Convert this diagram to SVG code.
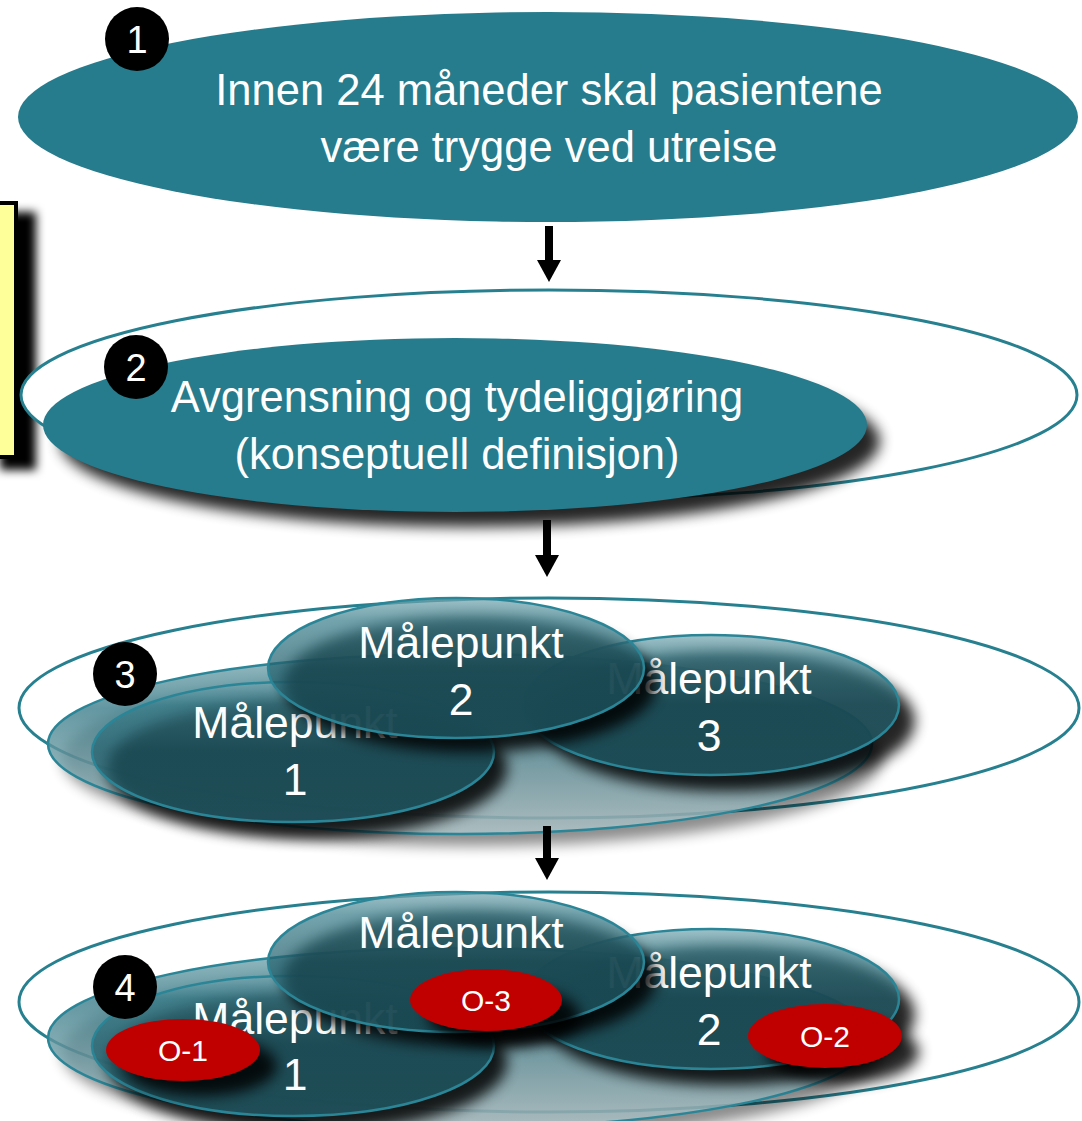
<svg xmlns="http://www.w3.org/2000/svg" width="1082" height="1121" viewBox="0 0 1082 1121">
  <defs>
    <style>
      .txt { font-family: "Liberation Sans", Arial, sans-serif; fill: #ffffff; text-anchor: middle; }
      .big { font-size: 43.5px; }
      .mp { font-size: 44.5px; }
      .olab { font-size: 30px; }
      .badge circle { fill: #000000; }
      .badge text { font-family: "Liberation Sans", Arial, sans-serif; font-size: 38px; fill: #ffffff; text-anchor: middle; }
      .solid { fill: #267b8c; }
      .ring { fill: #ffffff; stroke: #27808f; stroke-width: 3; }
      .glass { fill: url(#glass); fill-opacity: 0.72; stroke: #2a8597; stroke-width: 2.5; }
      .base { fill: url(#baseGlass); fill-opacity: 0.8; stroke: #2a8597; stroke-width: 2.5; }
      .shade { fill: #000000; opacity: 0.85; filter: url(#soft); }
      .shade-light { fill: #000000; opacity: 0.45; filter: url(#soft); }
      .red { fill: #c00000; }
      .arrow { stroke: #000000; stroke-width: 8; fill: none; marker-end: url(#head); }
    </style>
    <linearGradient id="glass" x1="0" y1="0" x2="0" y2="1">
      <stop offset="0" stop-color="#78a8b2"/>
      <stop offset="0.16" stop-color="#3d808d"/>
      <stop offset="0.5" stop-color="#22606d"/>
      <stop offset="1" stop-color="#22606d"/>
    </linearGradient>
    <linearGradient id="baseGlass" x1="0" y1="0" x2="0" y2="1">
      <stop offset="0" stop-color="#7eabb4"/>
      <stop offset="0.3" stop-color="#3d7e8b"/>
      <stop offset="1" stop-color="#b3c8cc"/>
    </linearGradient>
    <filter id="soft" x="-20%" y="-60%" width="140%" height="220%">
      <feGaussianBlur stdDeviation="7"/>
    </filter>
    <filter id="boxShadow" x="-100%" y="-20%" width="400%" height="140%">
      <feGaussianBlur stdDeviation="5"/>
    </filter>
    <marker id="head" viewBox="0 0 22 24" refX="2" refY="12" markerWidth="22" markerHeight="24" markerUnits="userSpaceOnUse" orient="auto">
      <path d="M0,0 L22,12 L0,24 Z" fill="#000000"/>
    </marker>
  </defs>

  <rect width="1082" height="1121" fill="#ffffff"/>

  <!-- note box at the left edge -->
  <g id="note">
    <rect x="0" y="212" width="36" height="258" fill="#000000" filter="url(#boxShadow)"/>
    <rect x="-10" y="203" width="26" height="254" fill="#ffff99" stroke="#000000" stroke-width="4"/>
  </g>

  <!-- step 1: goal -->
  <g id="goal">
    <ellipse class="solid" cx="548" cy="117" rx="530" ry="105"/>
    <text class="txt big" x="549" y="105">Innen 24 måneder skal pasientene</text>
    <text class="txt big" x="549" y="162">være trygge ved utreise</text>
  </g>

  <!-- step 2: concept definition -->
  <g id="concept">
    <ellipse class="ring" cx="549" cy="395" rx="528" ry="105"/>
    <ellipse class="shade" cx="470" cy="441" rx="410" ry="86"/>
    <ellipse class="solid" cx="455" cy="425" rx="412" ry="87"/>
    <text class="txt big" x="457" y="412">Avgrensning og tydeliggjøring</text>
    <text class="txt big" x="457" y="469">(konseptuell definisjon)</text>
  </g>

  <!-- step 3: measuring points -->
  <g id="measures">
    <ellipse class="ring" cx="549" cy="708" rx="530" ry="110"/>
    <ellipse class="shade-light" cx="472" cy="758" rx="410" ry="88"/>
    <ellipse class="base" cx="460" cy="744" rx="412" ry="90"/>
    <g id="mp1">
      <ellipse class="shade" cx="307" cy="768" rx="200" ry="70"/>
      <ellipse class="glass" cx="293" cy="752" rx="201" ry="70"/>
      <text class="txt mp" x="295" y="738">Målepunkt</text>
      <text class="txt mp" x="295" y="795">1</text>
    </g>
    <g id="mp3">
      <ellipse class="shade" cx="727" cy="721" rx="188" ry="70"/>
      <ellipse class="glass" cx="711" cy="705" rx="188" ry="70"/>
      <text class="txt mp" x="709" y="694">Målepunkt</text>
      <text class="txt mp" x="709" y="751">3</text>
    </g>
    <g id="mp2">
      <ellipse class="shade" cx="470" cy="684" rx="187" ry="68"/>
      <ellipse class="glass" cx="456" cy="668" rx="188" ry="70"/>
      <text class="txt mp" x="461" y="658">Målepunkt</text>
      <text class="txt mp" x="461" y="715">2</text>
    </g>
  </g>

  <!-- step 4: measuring points with observations -->
  <g id="observations">
    <ellipse class="ring" cx="549" cy="1002" rx="530" ry="110"/>
    <ellipse class="shade-light" cx="472" cy="1052" rx="410" ry="88"/>
    <ellipse class="base" cx="460" cy="1038" rx="412" ry="90"/>
    <g id="obs-mp1">
      <ellipse class="shade" cx="307" cy="1062" rx="200" ry="70"/>
      <ellipse class="glass" cx="293" cy="1046" rx="201" ry="70"/>
      <text class="txt mp" x="295" y="1034">Målepunkt</text>
      <text class="txt mp" x="295" y="1090">1</text>
    </g>
    <g id="obs-mp2">
      <ellipse class="shade" cx="727" cy="1015" rx="188" ry="70"/>
      <ellipse class="glass" cx="711" cy="999" rx="188" ry="70"/>
      <text class="txt mp" x="709" y="988">Målepunkt</text>
      <text class="txt mp" x="709" y="1045">2</text>
    </g>
    <g id="obs-mp3">
      <ellipse class="shade" cx="470" cy="978" rx="187" ry="68"/>
      <ellipse class="glass" cx="456" cy="962" rx="188" ry="70"/>
      <text class="txt mp" x="461" y="948">Målepunkt</text>
    </g>
    <g id="o1">
      <ellipse class="shade" cx="201" cy="1066" rx="76" ry="30"/>
      <ellipse class="red" cx="183" cy="1050" rx="77" ry="31"/>
      <text class="txt olab" x="183" y="1061">O-1</text>
    </g>
    <g id="o3">
      <ellipse class="shade" cx="504" cy="1016" rx="76" ry="30"/>
      <ellipse class="red" cx="486" cy="1000" rx="76" ry="31"/>
      <text class="txt olab" x="486" y="1011">O-3</text>
    </g>
    <g id="o2">
      <ellipse class="shade" cx="843" cy="1052" rx="76" ry="31"/>
      <ellipse class="red" cx="825" cy="1036" rx="77" ry="32"/>
      <text class="txt olab" x="825" y="1047">O-2</text>
    </g>
  </g>

  <!-- step badges -->
  <g id="badge1" class="badge"><circle cx="137" cy="39" r="32"/><text x="137" y="53">1</text></g>
  <g id="badge2" class="badge"><circle cx="136" cy="367" r="32"/><text x="136" y="381">2</text></g>
  <g id="badge3" class="badge"><circle cx="125" cy="674" r="32"/><text x="125" y="688">3</text></g>
  <g id="badge4" class="badge"><circle cx="125" cy="987" r="32"/><text x="125" y="1001">4</text></g>

  <!-- connectors between steps -->
  <g id="connectors">
    <line class="arrow" x1="549" y1="226" x2="549" y2="262"/>
    <line class="arrow" x1="547" y1="520" x2="547" y2="557"/>
    <line class="arrow" x1="547" y1="826" x2="547" y2="860"/>
  </g>
</svg>
